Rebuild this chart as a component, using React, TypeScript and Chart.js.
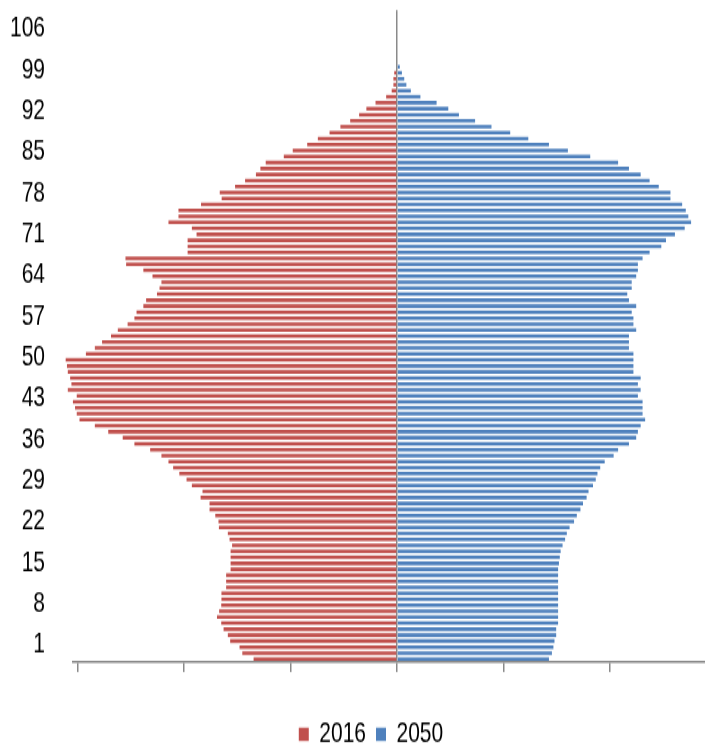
import { useEffect, useRef } from "react";
import { Chart, registerables } from "chart.js";

Chart.register(...registerables);

// Age categories (single years, 0 at the bottom)
const AGES: string[] = Array.from({ length: 109 }, (_, i) => String(i));

// Age tick labels shown on the left
const AGE_TICKS = [1, 8, 15, 22, 29, 36, 43, 50, 57, 64, 71, 78, 85, 92, 99, 106];

// Value axis ticks (thousands), unlabeled in the reference
const X_TICKS = [-1500, -1000, -500, 0, 500, 1000, 1500];

// Population by single year of age (thousands)
const POP_2016 = [
  674, 727, 740, 784, 795, 815, 826, 846, 836, 826,
  825, 825, 803, 803, 803, 782, 782, 782, 782, 775,
  787, 795, 837, 839, 854, 881, 881, 923, 914, 964,
  989, 1023, 1052, 1074, 1107, 1160, 1234, 1289, 1357, 1420,
  1492, 1505, 1513, 1523, 1505, 1547, 1530, 1536, 1547, 1551,
  1557, 1462, 1420, 1386, 1344, 1312, 1266, 1234, 1224, 1192,
  1179, 1128, 1116, 1107, 1149, 1192, 1273, 1276, 984, 984,
  984, 942, 964, 1074, 1027, 1027, 921, 824, 833, 761,
  714, 663, 642, 617, 532, 490, 422, 372, 317, 266,
  220, 178, 144, 101, 51, 25, 17, 17, 13, 0,
  0, 0, 0, 0, 0, 0, 0, 0, 0,
];

const POP_2050 = [
  714, 728, 735, 740, 748, 748, 757, 757, 757, 757,
  757, 757, 757, 757, 757, 757, 761, 765, 769, 778,
  790, 798, 811, 832, 845, 862, 874, 891, 900, 921,
  934, 942, 955, 976, 1018, 1039, 1090, 1124, 1132, 1145,
  1166, 1154, 1154, 1154, 1132, 1145, 1132, 1145, 1111, 1111,
  1111, 1111, 1090, 1090, 1090, 1124, 1111, 1111, 1103, 1124,
  1090, 1082, 1103, 1103, 1124, 1132, 1132, 1154, 1187, 1242,
  1264, 1306, 1352, 1382, 1369, 1357, 1340, 1285, 1285, 1230,
  1187, 1145, 1090, 1039, 908, 803, 714, 617, 532, 444,
  367, 291, 241, 186, 110, 65, 44, 34, 23, 13,
  0, 0, 0, 0, 0, 0, 0, 0, 0,
];

const SERIES_LABELS = ["2016", "2050"];

const RED = "#C0504D";
const BLUE = "#4F81BD";
const AXIS_GRAY = "#8a8a8a";
const FONT = "'Liberation Sans', Arial, sans-serif";

const X_MIN = -1522.6;
const X_MAX = 1621.2;
const AGE_MIN = -1.9;
const AGE_MAX = 109.2;

// The reference picture is stretched vertically; draw then stretch.
const STRETCH = 1.4;
const CANVAS_W = 742;
const CANVAS_H = 545;

export default function App() {
  const ref = useRef<HTMLCanvasElement>(null);

  useEffect(() => {
    if (!ref.current) return;
    const chart = new Chart(ref.current, {
      type: "bar",
      data: {
        labels: AGES,
        datasets: [
          {
            label: SERIES_LABELS[0],
            data: POP_2016.map((v) => -v),
            backgroundColor: RED,
            borderWidth: 0,
            barPercentage: 0.6,
            categoryPercentage: 1,
            clip: false as any,
          },
          {
            label: SERIES_LABELS[1],
            data: POP_2050,
            backgroundColor: BLUE,
            borderWidth: 0,
            barPercentage: 0.6,
            categoryPercentage: 1,
            clip: false as any,
          },
        ],
      },
      options: {
        indexAxis: "y",
        responsive: false,
        maintainAspectRatio: false,
        animation: false,
        devicePixelRatio: 1,
        layout: { padding: { top: 10 / STRETCH, left: 0, right: 0, bottom: 0 } },
        plugins: {
          legend: {
            position: "bottom",
            labels: {
              boxWidth: 10,
              boxHeight: 9.5,
              padding: 10,
              color: "#000",
              font: { family: FONT, size: 21 },
            },
          },
          tooltip: { enabled: false },
        },
        scales: {
          x: {
            type: "linear",
            stacked: true,
            min: X_MIN,
            max: X_MAX,
            z: 1,
            afterBuildTicks: (s: any) => {
              s.ticks = X_TICKS.map((v) => ({ value: v }));
            },
            afterFit: (s: any) => {
              s.height = 504 - 662 / STRETCH;
              s.paddingLeft = 0;
              s.paddingRight = 0;
            },
            ticks: { display: false },
            grid: {
              color: (c: any) =>
                c.tick && c.tick.value === 0 ? AXIS_GRAY : "rgba(0,0,0,0)",
              lineWidth: 1.5,
              drawTicks: true,
              tickLength: 10 / STRETCH,
              tickColor: AXIS_GRAY,
              tickWidth: 1.5,
            },
            border: { display: true, color: AXIS_GRAY, width: 1.5 },
          },
          y: {
            type: "category",
            stacked: true,
            reverse: true,
            display: false,
          },
          yAge: {
            type: "linear",
            position: "left",
            offset: false,
            min: AGE_MIN,
            max: AGE_MAX,
            afterBuildTicks: (s: any) => {
              s.ticks = AGE_TICKS.map((v) => ({ value: v }));
            },
            afterFit: (s: any) => {
              s.width = 73;
              s.paddingTop = 0;
              s.paddingBottom = 0;
            },
            grid: { display: false, drawTicks: false, offset: false },
            border: { display: false },
            ticks: {
              padding: 28,
              autoSkip: false,
              color: "#000",
              font: { family: FONT, size: 21 },
            },
          },
        },
      },
    } as any);
    return () => chart.destroy();
  }, []);

  return (
    <div
      style={{
        position: "fixed",
        left: 0,
        top: 0,
        width: 705,
        height: 748,
        overflow: "hidden",
        background: "#fff",
      }}
    >
      <canvas
        ref={ref}
        width={CANVAS_W}
        height={CANVAS_H}
        style={{
          display: "block",
          width: CANVAS_W,
          height: CANVAS_H,
          transform: `scaleY(${STRETCH})`,
          transformOrigin: "0 0",
        }}
      />
    </div>
  );
}
